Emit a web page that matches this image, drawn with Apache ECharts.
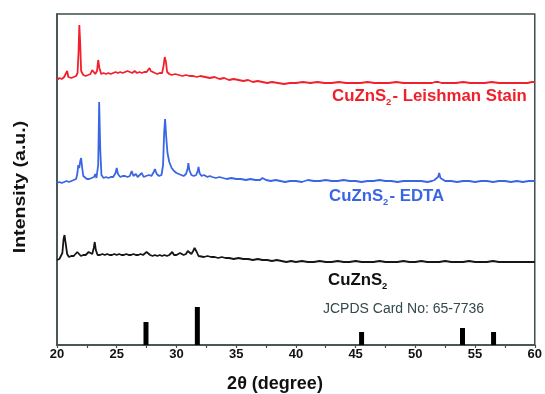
<!DOCTYPE html>
<html>
<head>
<meta charset="utf-8">
<script src="https://cdn.jsdelivr.net/npm/echarts@6/dist/echarts.min.js"></script>
<style>html,body{margin:0;padding:0;background:#fff}#c{width:545px;height:394px}</style>
</head>
<body>
<div id="c"></div>
<script>
// x tick labels
const xTicks = [20, 25, 30, 35, 40, 45, 50, 55, 60];

// CuZnS2 - Leishman Stain (offset pattern, arbitrary units)
const leishman = [
[20.0,265],[20.2,267],[20.4,266],[20.6,268],[20.75,270],[20.85,274],[20.95,268],[21.2,267],[21.4,268],[21.6,269],[21.72,272],
[21.8,292],[21.87,320],[21.94,302],[22.02,274],[22.2,270],[22.4,269],[22.6,270],[22.8,271],[22.95,275],[23.05,273],[23.2,271],
[23.35,274],[23.45,285],[23.55,277],[23.7,271],[23.9,272],[24.1,271],[24.3,272],[24.5,271],[24.7,272],[24.9,273],[25.1,272],
[25.3,273],[25.5,272],[25.7,273],[25.9,274],[26.1,273],[26.3,272],[26.5,274],[26.7,272],[26.9,273],[27.1,272],[27.3,273],
[27.5,273],[27.65,275],[27.75,277],[27.85,274],[28.0,272],[28.2,272],[28.4,271],[28.6,272],[28.8,272],[28.92,279],[29.02,288],
[29.12,283],[29.22,273],[29.4,271],[29.6,270],[29.9,271],[30.2,270],[30.5,269],[30.8,270],[31.1,269],[31.4,269],[31.7,268],
[32.0,269],[32.4,268],[32.8,267],[33.2,268],[33.6,266],[34.0,267],[34.4,265],[34.8,266],[35.2,265],[35.6,264],[36.0,265],
[36.4,263],[36.8,264],[37.2,263],[37.6,262],[38.0,263],[38.5,262],[39.0,261],[39.5,262],[40.0,262],[40.6,263],[41.2,262],
[41.8,263],[42.4,262],[43.0,262],[43.6,263],[44.2,262],[44.8,262],[45.4,262],[46.0,263],[46.6,262],[47.2,262],[47.8,262],
[48.4,263],[49.0,262],[49.6,262],[50.2,262],[50.8,262],[51.4,262],[51.65,263],[51.8,265],[51.95,263],[52.2,262],[52.8,262],
[53.4,262],[54.0,263],[54.6,262],[55.2,262],[55.8,262],[56.4,263],[57.0,262],[57.6,262],[58.2,262],[58.8,262],[59.4,262],
[59.75,263],[59.85,265],[60.0,263]
];

// CuZnS2 - EDTA
const edta = [
[20.0,162],[20.2,163],[20.4,162],[20.6,163],[20.8,164],[21.0,163],[21.2,164],[21.4,165],[21.6,166],[21.7,171],[21.78,180],
[21.86,177],[21.95,184],[22.02,187],[22.1,178],[22.2,169],[22.35,168],[22.5,166],[22.7,166],[22.9,167],[23.1,168],[23.2,171],
[23.3,167],[23.45,180],[23.53,243],[23.62,196],[23.72,170],[23.9,167],[24.1,168],[24.3,167],[24.5,168],[24.7,168],[24.9,172],
[25.0,177],[25.1,171],[25.3,168],[25.5,169],[25.7,169],[25.9,168],[26.1,169],[26.25,174],[26.4,169],[26.6,171],[26.75,168],
[26.9,167],[27.1,172],[27.25,168],[27.45,169],[27.7,170],[27.9,169],[28.1,173],[28.2,176],[28.35,171],[28.55,169],[28.75,170],
[28.88,180],[28.97,212],[29.05,226],[29.13,210],[29.25,192],[29.4,183],[29.6,177],[29.8,174],[30.0,172],[30.2,171],[30.4,170],
[30.6,169],[30.8,171],[30.93,176],[31.0,182],[31.08,175],[31.25,170],[31.45,169],[31.65,170],[31.78,174],[31.85,178],[31.93,172],
[32.1,169],[32.3,170],[32.45,171],[32.6,168],[32.8,169],[33.0,168],[33.3,167],[33.6,168],[33.9,167],[34.2,166],[34.6,167],
[35.0,166],[35.4,166],[35.8,165],[36.2,166],[36.6,165],[37.0,165],[37.2,167],[37.35,168],[37.5,165],[37.9,164],[38.3,165],
[38.7,164],[39.1,163],[39.5,164],[40.0,164],[40.5,163],[41.0,165],[41.5,164],[42.0,164],[42.5,165],[43.0,164],[43.5,164],
[44.0,165],[44.5,164],[45.0,164],[45.5,163],[46.0,164],[46.5,164],[47.0,165],[47.5,164],[48.0,164],[48.5,163],[49.0,164],
[49.5,164],[50.0,164],[50.5,164],[51.0,163],[51.4,164],[51.6,165],[51.75,167],[51.9,168],[52.0,172],[52.1,167],[52.25,165],
[52.5,164],[53.0,164],[53.5,163],[54.0,164],[54.5,164],[55.0,163],[55.5,164],[56.0,164],[56.5,163],[57.0,164],[57.5,164],
[58.0,163],[58.5,164],[59.0,163],[59.5,164],[60.0,164]
];

// CuZnS2
const cuzns = [
[20.0,85],[20.2,86],[20.35,87],[20.45,92],[20.55,106],[20.63,110],[20.72,102],[20.85,91],[21.0,88],[21.2,89],[21.4,89],
[21.55,91],[21.7,93],[21.85,91],[22.0,89],[22.2,90],[22.4,90],[22.55,92],[22.65,93],[22.8,91],[22.95,91],[23.08,97],[23.16,103],
[23.25,95],[23.4,90],[23.6,90],[23.8,91],[24.0,90],[24.2,91],[24.4,90],[24.6,90],[24.8,91],[25.0,90],[25.2,91],[25.4,90],
[25.6,90],[25.8,91],[26.0,90],[26.2,90],[26.4,91],[26.6,90],[26.8,90],[27.0,91],[27.2,90],[27.35,92],[27.5,93],[27.65,91],
[27.8,90],[28.0,89],[28.2,90],[28.4,89],[28.6,90],[28.8,89],[29.0,90],[29.2,89],[29.4,90],[29.55,91],[29.65,93],[29.8,90],
[30.0,90],[30.15,91],[30.3,92],[30.45,90],[30.6,90],[30.8,91],[30.95,94],[31.1,92],[31.25,91],[31.4,94],[31.52,97],[31.6,98],
[31.7,93],[31.85,89],[32.0,88],[32.3,88],[32.6,89],[32.9,88],[33.2,88],[33.5,87],[33.8,88],[34.1,87],[34.4,87],[34.8,86],
[35.2,87],[35.6,86],[36.0,86],[36.4,85],[36.8,86],[37.2,85],[37.6,85],[38.0,84],[38.4,85],[38.8,84],[39.2,83],[39.6,84],
[40.0,83],[40.5,84],[41.0,83],[41.5,83],[42.0,84],[42.5,83],[43.0,83],[43.5,84],[44.0,83],[44.5,83],[45.0,84],[45.5,83],
[46.0,83],[46.5,83],[47.0,84],[47.5,83],[48.0,83],[48.5,83],[49.0,84],[49.5,83],[50.0,83],[50.5,84],[51.0,83],[51.5,83],
[52.0,83],[52.5,84],[53.0,83],[53.5,83],[54.0,83],[54.5,84],[55.0,83],[55.5,83],[56.0,83],[56.5,84],[57.0,83],[57.5,83],
[58.0,83],[58.5,83],[59.0,83],[59.5,83],[60.0,83]
];

// JCPDS Card No: 65-7736 reference lines
const jcpdsPos = [27.45, 31.75, 45.5, 53.95, 56.55];
const jcpdsInt = [23, 38, 13, 17, 13];

const chart = echarts.init(document.getElementById('c'), null, {renderer: 'canvas'});
const frame = '#3e4d4d';
const sub = (main, rest, color) => ({
  text: '{a|' + main + '}{s|2}{a|' + rest + '}',
  rich: {
    a: {fontSize: 16, fontWeight: 'bold', fontFamily: 'Liberation Sans, Arial', fill: color, lineHeight: 18},
    s: {fontSize: 9, fontWeight: 'bold', fontFamily: 'Liberation Sans, Arial', fill: color, lineHeight: 18, padding: [12, 1, 0, 0]}
  }
});

chart.setOption({
  animation: false,
  grid: {left: 57, right: 9, top: 14, bottom: 49, show: true, borderColor: frame, borderWidth: 1.5, backgroundColor: 'transparent'},
  xAxis: {
    type: 'value', min: 20, max: 60, interval: 5,
    axisLine: {show: true, lineStyle: {color: frame, width: 1.5}},
    axisTick: {show: true, length: 3, lineStyle: {color: frame, width: 1.2}},
    minorTick: {show: true, splitNumber: 2, length: 3, lineStyle: {color: frame, width: 1.2}},
    splitLine: {show: false},
    axisLabel: {margin: 3, color: '#111', fontWeight: 'bold', fontSize: 13, fontFamily: 'Liberation Sans, Arial',
      formatter: v => xTicks.includes(v) ? String(v) : ''}
  },
  yAxis: {
    type: 'value', min: 0, max: 331,
    axisLine: {show: true, lineStyle: {color: frame, width: 1.5}},
    axisTick: {show: false}, axisLabel: {show: false}, splitLine: {show: false}
  },
  series: [
    {type: 'line', data: leishman, showSymbol: false, lineStyle: {color: '#f2202c', width: 1.8}, itemStyle: {color: '#f2202c'}},
    {type: 'line', data: edta, showSymbol: false, lineStyle: {color: '#3a66e6', width: 1.8}, itemStyle: {color: '#3a66e6'}},
    {type: 'line', data: cuzns, showSymbol: false, lineStyle: {color: '#161616', width: 1.8}, itemStyle: {color: '#161616'}},
    {type: 'bar', data: jcpdsPos.map((x, i) => [x, jcpdsInt[i]]), barWidth: 5, itemStyle: {color: '#000'}}
  ],
  graphic: [
    {type: 'text', x: 332, y: 88, scaleX: 1.05, style: sub('CuZnS', '- Leishman Stain', '#f0202a')},
    {type: 'text', x: 329, y: 188, scaleX: 1.05, style: sub('CuZnS', '- EDTA', '#3a66e6')},
    {type: 'text', x: 328, y: 272, scaleX: 1.05, style: sub('CuZnS', '', '#111')},
    {type: 'text', left: 323, top: 302, style: {text: 'JCPDS Card No: 65-7736', fontSize: 14, fontFamily: 'Liberation Sans, Arial', fill: '#34494a'}},
    {type: 'text', x: 275, y: 384, style: {text: '2θ (degree)', fontSize: 18, fontWeight: 'bold', fontFamily: 'Liberation Sans, Arial', fill: '#111', align: 'center', verticalAlign: 'middle'}},
    {type: 'text', x: 20, y: 187, rotation: Math.PI / 2, scaleX: 1.15, style: {text: 'Intensity (a.u.)', fontSize: 17, fontWeight: 'bold', fontFamily: 'Liberation Sans, Arial', fill: '#111', align: 'center', verticalAlign: 'middle'}}
  ]
});
</script>
</body>
</html>
